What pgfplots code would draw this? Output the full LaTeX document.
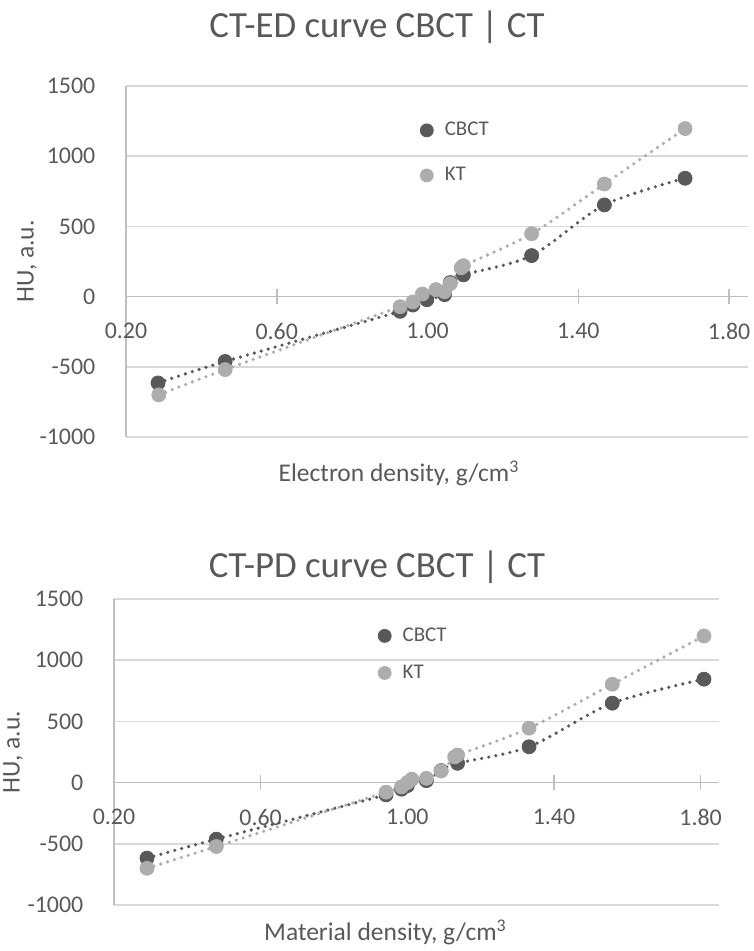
\documentclass[border=0pt]{standalone}
\usepackage{fontspec}
\setmainfont{Carlito}
\usepackage{pgfplots}
\usepackage{pgfplotstable}
\pgfplotsset{compat=1.18}

\definecolor{txt}{HTML}{595959}
\definecolor{cbct}{HTML}{595959}
\definecolor{kt}{HTML}{ADADAD}
\definecolor{grd}{HTML}{D9D9D9}
\definecolor{axl}{HTML}{BFBFBF}

% electron density (top chart)
\pgfplotstableread{
x y
0.285 -615
0.463 -462
0.927 -105
0.961 -60
0.998 -22
1.045 14
1.060 100
1.095 155
1.276 292
1.469 653
1.683 843
}\edcbct
\pgfplotstableread{
x y
0.287 -700
0.463 -520
0.927 -72
0.961 -38
0.986 18
1.022 50
1.045 35
1.060 92
1.089 205
1.095 220
1.276 448
1.469 802
1.683 1197
}\edkt

% material density (bottom chart)
\pgfplotstableread{
x y
0.290 -617
0.479 -462
0.942 -100
0.984 -54
1.000 -25
1.052 16
1.092 98
1.137 158
1.332 293
1.559 649
1.809 845
}\pdcbct
\pgfplotstableread{
x y
0.290 -700
0.479 -522
0.942 -78
0.984 -35
1.000 0
1.012 28
1.052 35
1.092 95
1.129 210
1.137 225
1.332 445
1.559 804
1.809 1198
}\pdkt

\pgfplotsset{
  ctaxis/.style={
    scale only axis,
    xmin=0.2, xmax=1.85, ymin=-1000, ymax=1500,
    xtick={0.2,0.6,1.0,1.4,1.8},
    ytick={-1000,-500,0,500,1000,1500},
    axis x line=middle, axis y line=left,
    axis line style={axl, line width=0.75bp, -},
    hide obscured x ticks=false, hide obscured y ticks=false,
    ymajorgrids, grid style={grd, line width=0.75bp},
    tick align=center, major tick length=7.5bp,
    xtick style={axl, line width=0.75bp},
    ytick style={draw=none},
    /pgf/number format/assume math mode=true,
    x tick label style={/pgf/number format/.cd, fixed, fixed zerofill, precision=2, /tikz/.cd,
      font=\fontsize{12}{14}\selectfont, text=txt, anchor=center, inner sep=0pt, yshift=-13.5bp},
    y tick label style={/pgf/number format/.cd, set thousands separator={}, /tikz/.cd,
      font=\fontsize{12}{14}\selectfont, text=txt, anchor=east, inner sep=0pt, xshift=-11.4bp},
    label style={font=\fontsize{12.8}{15}\selectfont, text=txt},
    legend style={draw=none, fill=none, inner sep=0pt, column sep=3.75bp,
      font=\fontsize{10.5}{12}\selectfont, text=txt},
    legend cell align=left,
    dotline/.style={smooth, line width=1.8bp, line cap=round, dash pattern=on 0bp off 3.6bp, forget plot},
    dotmark/.style={only marks, mark=*, mark size=3.5bp,
      legend image code/.code={\draw[mark=*, mark size=3.25bp, ##1] plot coordinates {(0bp,0bp)};}},
  }
}

\begin{document}
\begin{tikzpicture}
\useasboundingbox (0,0) rectangle (377bp,-475.5bp);

\node[anchor=base, text=txt, font=\fontsize{18.5}{21}\selectfont] at (188.5bp,-18.5bp) {CT-ED curve CBCT | CT};
\node[anchor=base, text=txt, font=\fontsize{18.5}{21}\selectfont] at (188.5bp,-288.5bp) {CT-PD curve CBCT | CT};

\begin{axis}[ctaxis,
  at={(63bp,-218.5bp)}, anchor=south west,
  width=311bp, height=175.5bp,
  xlabel={Electron density, g/cm\textsuperscript{3}},
  xlabel style={at={(axis description cs:0.5,0)}, anchor=base, yshift=-22.3bp, xshift=-19bp},
  ylabel={HU, a.u.},
  ylabel style={at={([xshift=-49.5bp]axis description cs:0,0.5)}, anchor=center},
  legend style={at={(axis description cs:0.4725,0.8095)}, anchor=west, row sep=10.3bp},
]
\addplot[dotline, cbct] table {\edcbct};
\addplot[dotmark, cbct, mark options={draw=cbct, fill=cbct}] table {\edcbct};
\addlegendentry{CBCT}
\addplot[dotline, kt] table {\edkt};
\addplot[dotmark, kt, mark options={draw=kt, fill=kt}] table {\edkt};
\addlegendentry{KT}
\end{axis}

\begin{axis}[ctaxis,
  at={(57bp,-452.5bp)}, anchor=south west,
  width=302.5bp, height=153bp,
  xlabel={Material density, g/cm\textsuperscript{3}},
  xlabel style={at={(axis description cs:0.5,0)}, anchor=base, yshift=-17.5bp, xshift=-15.5bp},
  ylabel={HU, a.u.},
  ylabel style={at={([xshift=-50.5bp]axis description cs:0,0.5)}, anchor=center},
  legend style={at={(axis description cs:0.436,0.819)}, anchor=west, row sep=6.3bp},
]
\addplot[dotline, cbct] table {\pdcbct};
\addplot[dotmark, cbct, mark options={draw=cbct, fill=cbct}] table {\pdcbct};
\addlegendentry{CBCT}
\addplot[dotline, kt] table {\pdkt};
\addplot[dotmark, kt, mark options={draw=kt, fill=kt}] table {\pdkt};
\addlegendentry{KT}
\end{axis}
\end{tikzpicture}
\end{document}
